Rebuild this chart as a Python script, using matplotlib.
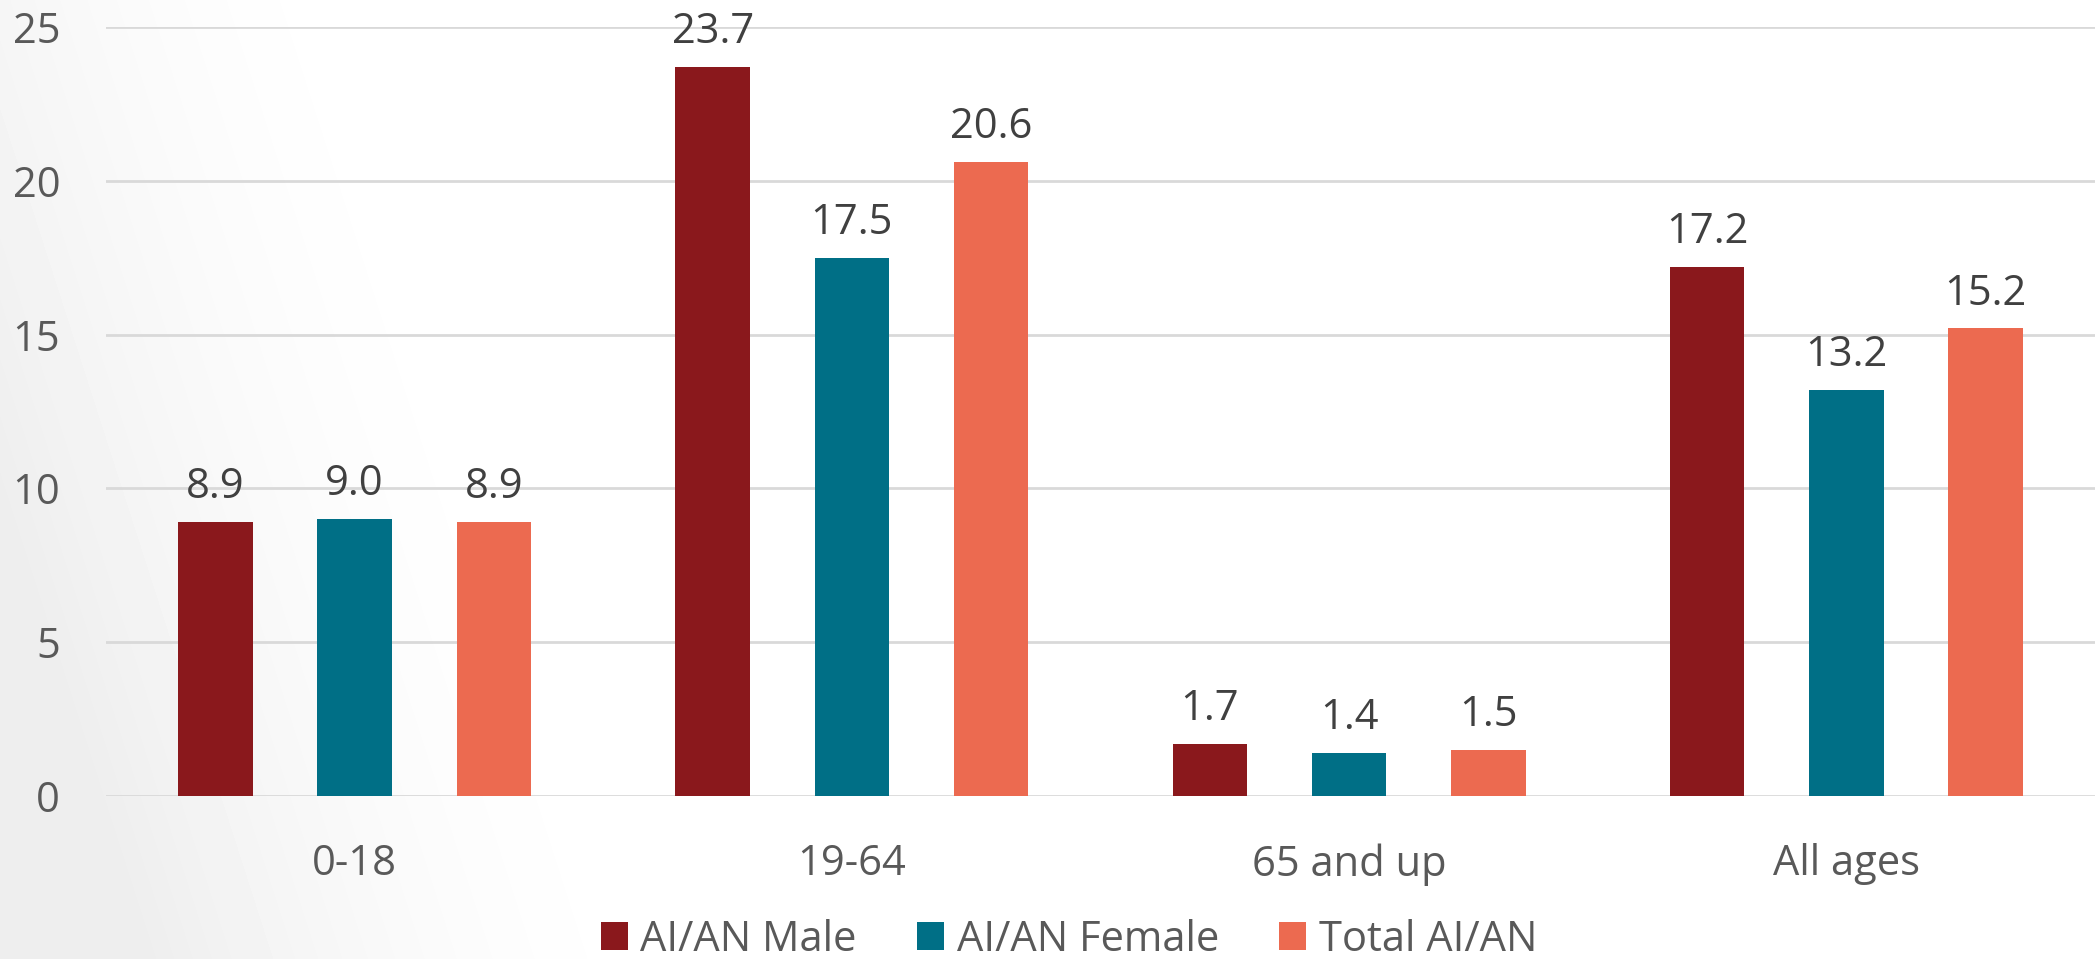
import numpy as np
import matplotlib
matplotlib.use("Agg")
import matplotlib.pyplot as plt

categories = ["0-18", "19-64", "65 and up", "All ages"]
series_names = ["AI/AN Male", "AI/AN Female", "Total AI/AN"]
male = [8.9, 23.7, 1.7, 17.2]
female = [9.0, 17.5, 1.4, 13.2]
total = [8.9, 20.6, 1.5, 15.2]
colors = ["#8A181C", "#006F86", "#EC6A50"]

plt.rcParams["font.family"] = ["Open Sans", "DejaVu Sans"]
FS = 30

fig = plt.figure(figsize=(20.95, 9.59), dpi=100)

# soft grey shading on the left edge of the slide
bg = fig.add_axes([0, 0, 1, 1], zorder=-10)
h, w = 959, 2095
yy, xx = np.mgrid[0:h, 0:w]
d = (xx / 560.0) - 0.55 * (yy / h)
shade = np.clip(1 - d - 0.3, 0, 1) ** 1.8
img = 1 - 0.07 * shade
bg.imshow(img, cmap="gray", vmin=0, vmax=1, aspect="auto", extent=[0, 1, 0, 1])
bg.set_axis_off()

ax = fig.add_axes([106 / 2095, 1 - 796 / 959, 1 - 106 / 2095, (796 - 27) / 959])
ax.patch.set_alpha(0)

x = np.arange(len(categories))
width = 0.15
step = 0.28
for i, (vals, name) in enumerate(zip([male, female, total], series_names)):
    bars = ax.bar(x + (i - 1) * step, vals, width, color=colors[i], label=name, zorder=3)
    for b, v in zip(bars, vals):
        ax.annotate(f"{v:.1f}", (b.get_x() + b.get_width() / 2, v),
                    xytext=(0, 10), textcoords="offset points",
                    ha="center", va="bottom", fontsize=FS, color="#404040")

ax.set_xlim(-0.5, len(categories) - 0.5)
ax.set_ylim(0, 25)
ax.set_yticks([0, 5, 10, 15, 20, 25])
ax.set_xticks(x, categories)
ax.grid(axis="y", color="#D9D9D9", linewidth=2, zorder=0)
for s in ax.spines.values():
    s.set_visible(False)
ax.tick_params(axis="both", length=0, labelsize=FS, labelcolor="#595959")
ax.tick_params(axis="x", pad=34)
ax.tick_params(axis="y", pad=33)

fig.legend(loc="center", bbox_to_anchor=(1069 / 2095, 19 / 959), ncol=3, frameon=False,
           fontsize=FS, labelcolor="#595959", handlelength=0.65, handleheight=0.65,
           handletextpad=0.31, columnspacing=1.44, borderaxespad=0)

fig.savefig("out.png", dpi=100)
